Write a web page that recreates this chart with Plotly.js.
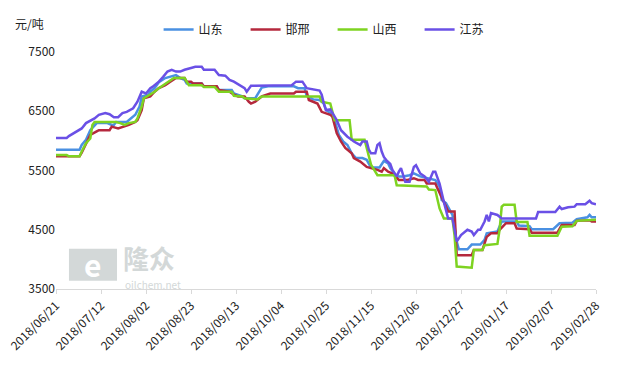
<!DOCTYPE html>
<html>
<head>
<meta charset="utf-8">
<script src="https://cdn.plot.ly/plotly-3.0.1.min.js"></script>
<style>html,body{margin:0;padding:0;background:#fff;}#chart{width:620px;height:372px;}</style>
</head>
<body>
<div id="chart"></div>
<script>
// 山东
const sdDates = ["2018-06-21","2018-07-02","2018-07-03","2018-07-05","2018-07-07","2018-07-09","2018-07-10","2018-07-15","2018-07-17","2018-07-18","2018-07-19","2018-07-24","2018-07-25","2018-07-27","2018-07-28","2018-07-30","2018-07-31","2018-08-03","2018-08-04","2018-08-06","2018-08-08","2018-08-11","2018-08-13","2018-08-15","2018-08-16","2018-08-18","2018-08-20","2018-08-21","2018-08-28","2018-08-29","2018-09-04","2018-09-05","2018-09-11","2018-09-12","2018-09-16","2018-09-17","2018-09-22","2018-09-23","2018-09-25","2018-09-28","2018-10-10","2018-10-12","2018-10-15","2018-10-16","2018-10-19","2018-10-22","2018-10-24","2018-10-25","2018-10-27","2018-10-28","2018-10-29","2018-10-31","2018-11-01","2018-11-02","2018-11-04","2018-11-06","2018-11-08","2018-11-11","2018-11-13","2018-11-15","2018-11-19","2018-11-21","2018-11-23","2018-11-24","2018-11-27","2018-11-30","2018-12-03","2018-12-05","2018-12-08","2018-12-11","2018-12-14","2018-12-15","2018-12-17","2018-12-18","2018-12-20","2018-12-22","2018-12-23","2018-12-24","2018-12-25","2018-12-26","2018-12-30","2019-01-01","2019-01-05","2019-01-07","2019-01-08","2019-01-13","2019-01-14","2019-01-15","2019-01-22","2019-01-23","2019-01-28","2019-01-29","2019-02-08","2019-02-11","2019-02-17","2019-02-19","2019-02-24","2019-02-25","2019-02-26","2019-02-28"];
const sdValues = [5850,5850,5930,6020,6180,6270,6300,6300,6270,6270,6320,6320,6350,6410,6440,6580,6750,6780,6830,6890,6990,7060,7080,7110,7110,7060,7030,6970,6970,6920,6920,6860,6860,6800,6750,6720,6720,6780,6900,6920,6920,6890,6890,6760,6700,6690,6630,6520,6470,6410,6350,6100,6040,5990,5930,5790,5710,5710,5680,5550,5550,5660,5620,5540,5400,5400,5420,5450,5400,5370,5340,5340,5230,5000,4950,4830,4750,4550,4300,4170,4170,4250,4250,4330,4440,4470,4550,4640,4640,4570,4560,4510,4510,4610,4620,4680,4710,4750,4710,4710];

// 邯邢
const hxDates = ["2018-06-21","2018-07-02","2018-07-03","2018-07-05","2018-07-07","2018-07-10","2018-07-11","2018-07-16","2018-07-17","2018-07-20","2018-07-23","2018-07-25","2018-07-28","2018-07-29","2018-07-31","2018-08-01","2018-08-04","2018-08-06","2018-08-08","2018-08-11","2018-08-13","2018-08-16","2018-08-20","2018-08-21","2018-08-23","2018-08-24","2018-08-28","2018-08-29","2018-09-04","2018-09-05","2018-09-10","2018-09-12","2018-09-14","2018-09-17","2018-09-19","2018-09-20","2018-09-22","2018-09-23","2018-09-25","2018-09-29","2018-10-10","2018-10-11","2018-10-16","2018-10-17","2018-10-21","2018-10-23","2018-10-27","2018-10-28","2018-10-30","2018-11-01","2018-11-03","2018-11-06","2018-11-07","2018-11-10","2018-11-13","2018-11-18","2018-11-20","2018-11-21","2018-11-23","2018-11-25","2018-11-28","2018-12-02","2018-12-05","2018-12-07","2018-12-10","2018-12-11","2018-12-15","2018-12-16","2018-12-18","2018-12-19","2018-12-21","2018-12-24","2018-12-25","2019-01-01","2019-01-02","2019-01-06","2019-01-07","2019-01-08","2019-01-10","2019-01-13","2019-01-14","2019-01-16","2019-01-17","2019-01-21","2019-01-22","2019-01-28","2019-01-29","2019-02-10","2019-02-12","2019-02-18","2019-02-19","2019-02-25","2019-02-26","2019-02-28"];
const hxValues = [5740,5740,5800,5950,6100,6160,6180,6180,6240,6210,6240,6270,6320,6350,6520,6720,6750,6830,6890,6940,6990,7060,7060,7000,7000,6970,6970,6920,6920,6860,6830,6780,6750,6750,6660,6630,6660,6690,6750,6800,6800,6830,6830,6690,6630,6490,6440,6410,6130,5990,5880,5790,5710,5650,5560,5510,5480,5540,5480,5450,5340,5340,5370,5340,5340,5280,5280,5200,5060,4970,4810,4810,4070,4070,4160,4160,4270,4380,4440,4440,4500,4580,4610,4610,4520,4510,4450,4450,4580,4580,4650,4660,4640,4640];

// 山西
const sxDates = ["2018-06-21","2018-06-26","2018-06-27","2018-07-02","2018-07-03","2018-07-05","2018-07-07","2018-07-08","2018-07-09","2018-07-19","2018-07-21","2018-07-23","2018-07-25","2018-07-28","2018-07-29","2018-07-31","2018-08-01","2018-08-04","2018-08-06","2018-08-08","2018-08-10","2018-08-12","2018-08-15","2018-08-20","2018-08-21","2018-08-22","2018-08-28","2018-08-29","2018-09-03","2018-09-05","2018-09-11","2018-09-12","2018-09-16","2018-09-17","2018-09-23","2018-09-25","2018-10-22","2018-10-23","2018-10-27","2018-10-29","2018-11-05","2018-11-06","2018-11-12","2018-11-14","2018-11-15","2018-11-18","2018-11-26","2018-11-27","2018-12-11","2018-12-12","2018-12-15","2018-12-17","2018-12-19","2018-12-23","2018-12-24","2018-12-25","2019-01-01","2019-01-02","2019-01-06","2019-01-07","2019-01-13","2019-01-14","2019-01-15","2019-01-16","2019-01-21","2019-01-22","2019-01-27","2019-01-28","2019-02-10","2019-02-12","2019-02-17","2019-02-19","2019-02-28"];
const sxValues = [5760,5760,5740,5740,5820,5960,6040,6270,6320,6320,6300,6270,6300,6320,6380,6580,6720,6780,6830,6890,6940,7000,7060,7060,7000,6940,6940,6910,6910,6830,6830,6760,6750,6720,6700,6750,6750,6660,6630,6350,6350,6020,6020,5710,5600,5420,5420,5250,5230,5180,5170,4860,4690,4690,4400,3880,3860,4160,4160,4240,4260,4500,4890,4920,4920,4630,4630,4400,4400,4550,4560,4650,4670];

// 江苏
const jsDates = ["2018-06-21","2018-06-26","2018-06-27","2018-06-30","2018-07-03","2018-07-05","2018-07-08","2018-07-09","2018-07-11","2018-07-14","2018-07-16","2018-07-18","2018-07-20","2018-07-22","2018-07-24","2018-07-27","2018-07-29","2018-07-31","2018-08-02","2018-08-04","2018-08-05","2018-08-08","2018-08-10","2018-08-12","2018-08-14","2018-08-16","2018-08-18","2018-08-20","2018-08-23","2018-08-25","2018-08-28","2018-08-29","2018-09-03","2018-09-05","2018-09-08","2018-09-10","2018-09-12","2018-09-15","2018-09-17","2018-09-18","2018-09-20","2018-10-09","2018-10-11","2018-10-14","2018-10-16","2018-10-22","2018-10-23","2018-10-24","2018-10-25","2018-10-27","2018-10-28","2018-10-30","2018-11-01","2018-11-03","2018-11-04","2018-11-06","2018-11-07","2018-11-10","2018-11-11","2018-11-13","2018-11-14","2018-11-15","2018-11-17","2018-11-18","2018-11-19","2018-11-20","2018-11-21","2018-11-22","2018-11-24","2018-11-25","2018-11-27","2018-11-28","2018-11-29","2018-12-01","2018-12-03","2018-12-05","2018-12-06","2018-12-08","2018-12-10","2018-12-12","2018-12-14","2018-12-15","2018-12-17","2018-12-19","2018-12-21","2018-12-23","2018-12-24","2018-12-25","2018-12-27","2018-12-29","2018-12-30","2019-01-01","2019-01-02","2019-01-04","2019-01-05","2019-01-07","2019-01-08","2019-01-09","2019-01-10","2019-01-13","2019-01-15","2019-01-31","2019-02-01","2019-02-09","2019-02-11","2019-02-12","2019-02-15","2019-02-18","2019-02-19","2019-02-23","2019-02-25","2019-02-26","2019-02-28"];
const jsValues = [6050,6050,6080,6150,6210,6300,6350,6380,6440,6470,6450,6400,6400,6470,6490,6550,6660,6830,6800,6890,6910,7000,7080,7170,7200,7170,7170,7200,7230,7250,7250,7200,7200,7110,7100,7030,7000,6940,6890,6830,6930,6940,7000,7000,6890,6850,6780,6630,6520,6530,6470,6350,6180,6100,6070,6020,5990,5930,5990,5990,5850,5790,5790,5930,5960,5820,5730,5680,5610,5510,5400,5480,5540,5310,5310,5560,5590,5450,5400,5310,5480,5480,5280,4970,4690,4690,4520,4300,4410,4470,4500,4470,4410,4500,4500,4640,4750,4640,4780,4750,4690,4690,4800,4800,4890,4850,4880,4890,4930,4930,4990,4950,4930];

const tickDates = ["2018-06-21","2018-07-12","2018-08-02","2018-08-23","2018-09-13","2018-10-04","2018-10-25","2018-11-15","2018-12-06","2018-12-27","2019-01-17","2019-02-07","2019-02-28"];
const tickLabels = ["2018/06/21","2018/07/12","2018/08/02","2018/08/23","2018/09/13","2018/10/04","2018/10/25","2018/11/15","2018/12/06","2018/12/27","2019/01/17","2019/02/07","2019/02/28"];
const yTicks = [3500,4500,5500,6500,7500];

const names = ["山东","邯邢","山西","江苏"];
const colors = ["#4a90e2","#b5283d","#7ed321","#6a50e6"];
const xs = [sdDates,hxDates,sxDates,jsDates];
const ys = [sdValues,hxValues,sxValues,jsValues];

const traces = names.map((n,i)=>({
  type:'scatter', mode:'lines', name:n, x:xs[i], y:ys[i],
  line:{color:colors[i], width:2.5}
}));

const font = "'Noto Sans CJK SC', 'Microsoft YaHei', sans-serif";
const wm = '#d3d8d8';
const layout = {
  width:620, height:372,
  margin:{l:56, r:24, t:52, b:83, autoexpand:false},
  paper_bgcolor:'#fff', plot_bgcolor:'#fff',
  font:{family:font, size:12, color:'#222'},
  showlegend:true,
  legend:{orientation:'h', x:0.19, xanchor:'left', y:1.095, yanchor:'middle',
          font:{family:font, size:12, color:'#222'}, entrywidth:42, entrywidthmode:'pixels',
          itemwidth:30, bgcolor:'rgba(0,0,0,0)'},
  xaxis:{type:'date', range:['2018-06-21','2019-02-28'], tickvals:tickDates, ticktext:tickLabels,
         tickangle:-45, showgrid:false, zeroline:false, showline:true, linecolor:'#d9d9d9', linewidth:1,
         ticks:'outside', ticklen:4, tickcolor:'#d9d9d9', tickfont:{family:font, size:12, color:'#222'}},
  yaxis:{range:[3500,7500], tickvals:yTicks, showgrid:false, zeroline:false, showline:false,
         ticks:'', tickfont:{family:font, size:12, color:'#222'}},
  shapes:[
    {type:'rect', xref:'paper', yref:'paper', x0:0.024, x1:0.113, y0:0.035, y1:0.17,
     fillcolor:wm, line:{width:0}, layer:'below'}
  ],
  annotations:[
    {text:'元/吨', xref:'paper', yref:'paper', x:-0.08, y:1.12, xanchor:'left', yanchor:'middle', showarrow:false,
     font:{family:font, size:12, color:'#222'}},
    {text:'<b>隆众</b>', xref:'paper', yref:'paper', x:0.12, y:0.133, xanchor:'left', yanchor:'middle', showarrow:false,
     font:{family:font, size:26, color:wm}},
    {text:'oilchem.net', xref:'paper', yref:'paper', x:0.124, y:0.018, xanchor:'left', yanchor:'middle', showarrow:false,
     font:{family:font, size:10, color:wm}},
    {text:'<b>e</b>', xref:'paper', yref:'paper', x:0.0685, y:0.105, xanchor:'center', yanchor:'middle', showarrow:false,
     font:{family:font, size:30, color:'#ffffff'}}
  ]
};
Plotly.newPlot('chart', traces, layout, {staticPlot:true, displayModeBar:false});
</script>
</body>
</html>
